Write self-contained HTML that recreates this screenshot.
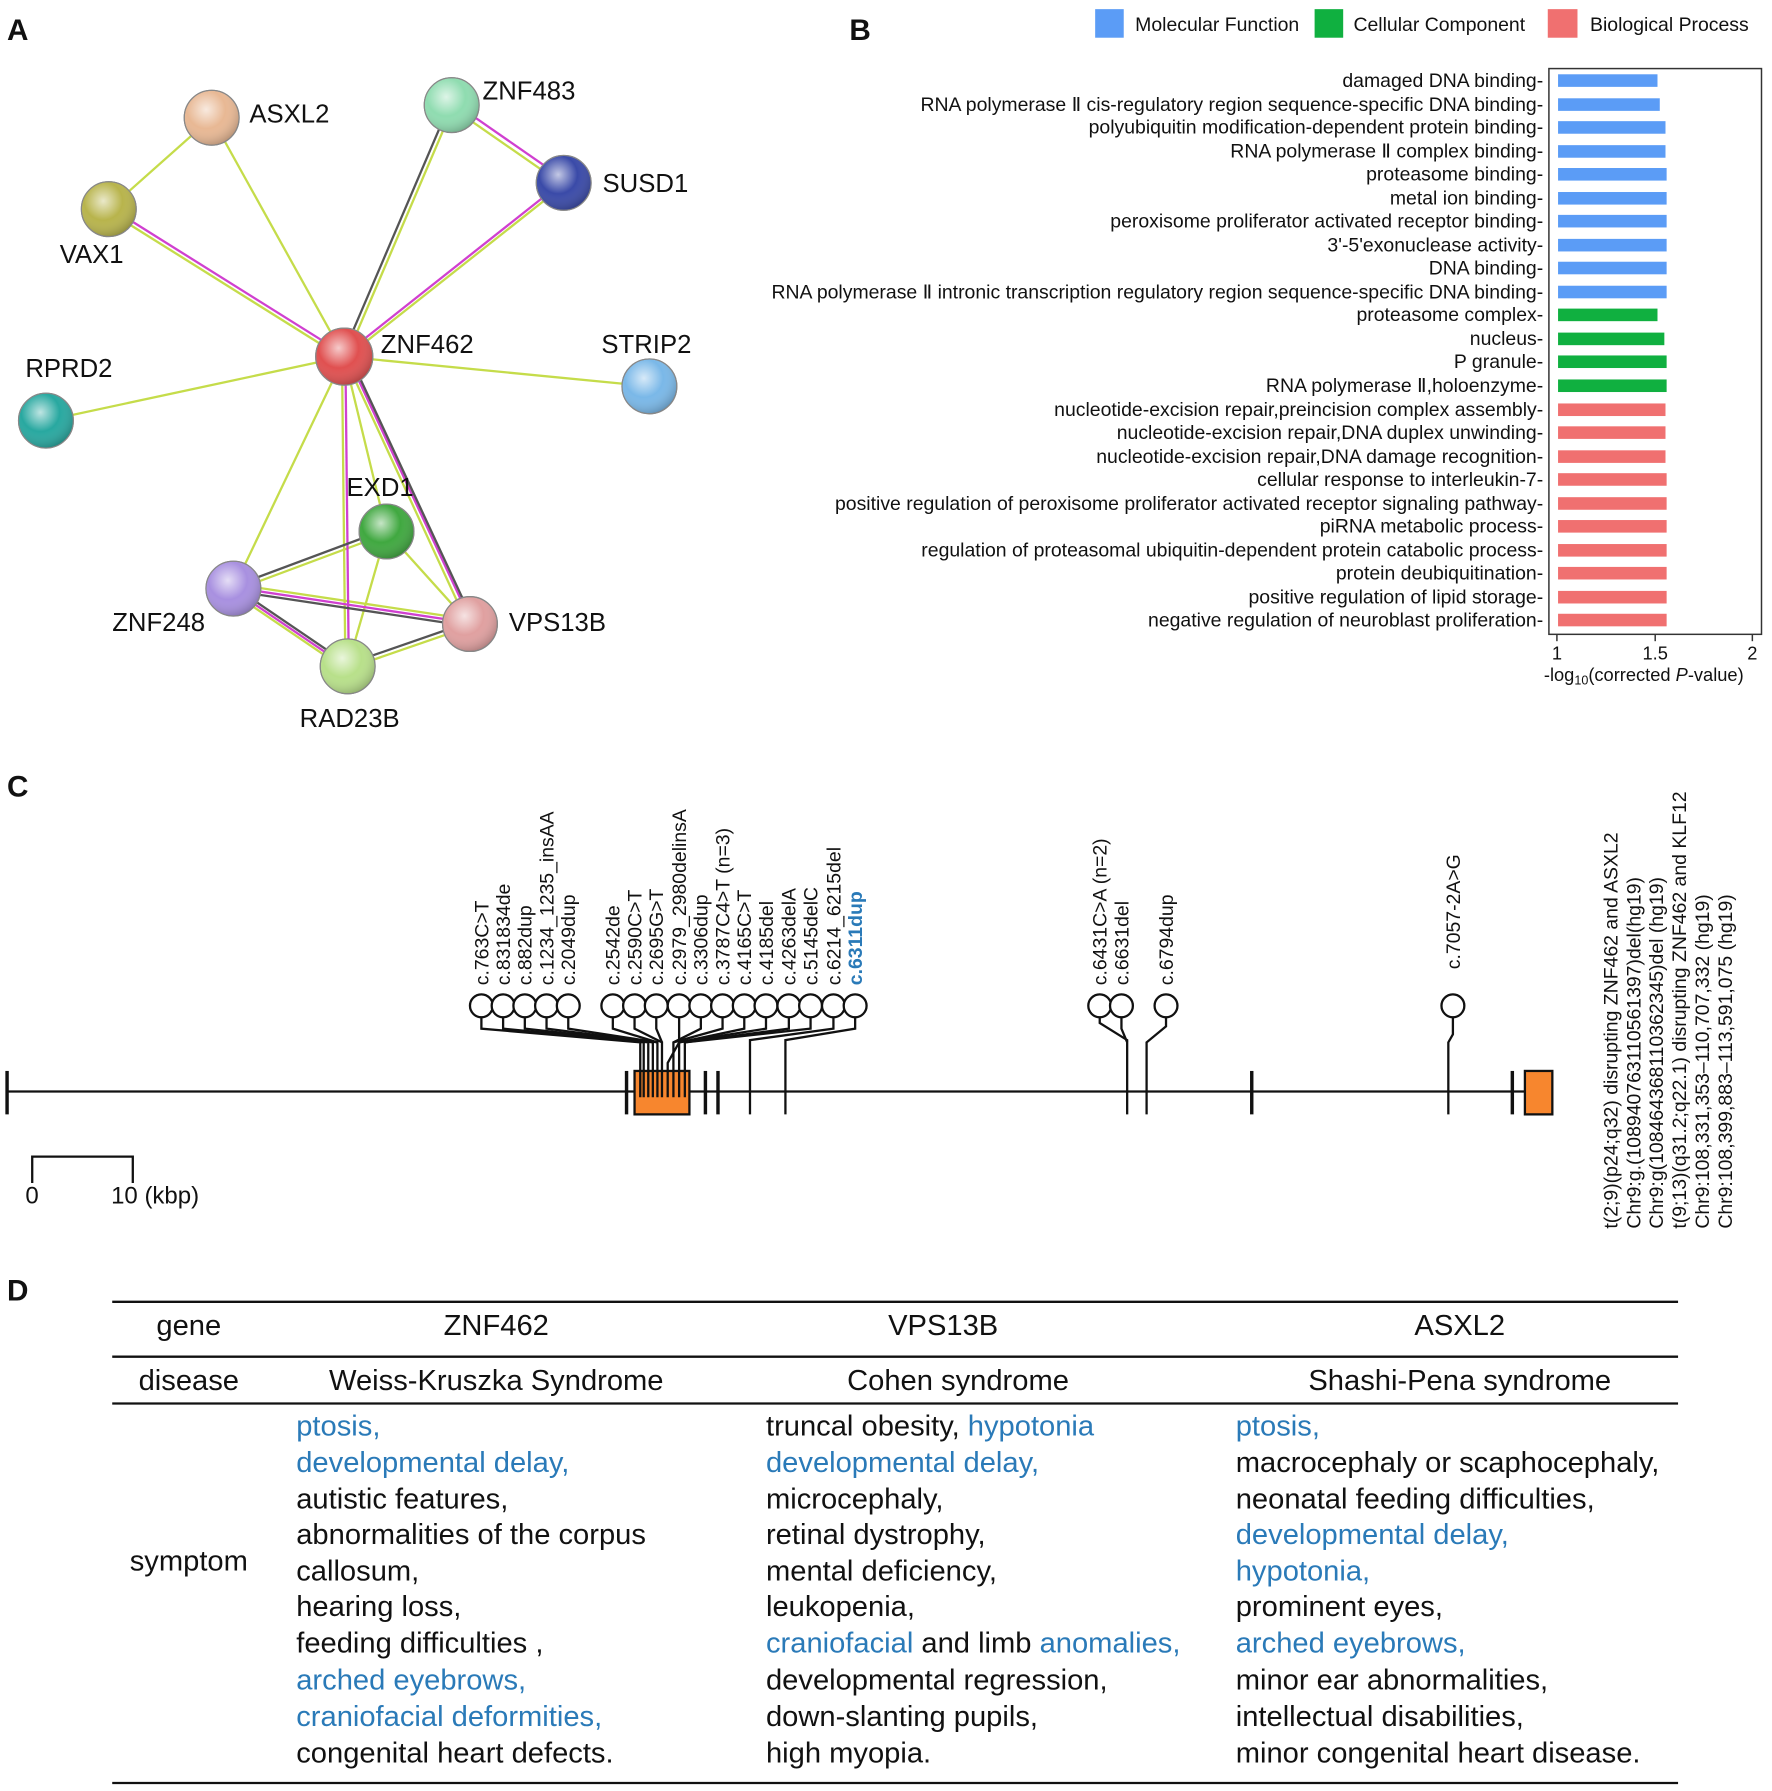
<!DOCTYPE html>
<html><head><meta charset="utf-8"><style>
html,body{margin:0;padding:0;background:#fff;}
svg{display:block;}
text{font-family:"Liberation Sans",Arial,sans-serif;fill:#111;}
.b{fill:#2a7ab8;}
</style></head><body>
<svg width="1772" height="1791" viewBox="0 0 1550 1567" xmlns="http://www.w3.org/2000/svg">
<defs>
<radialGradient id="g" cx="0.4" cy="0.35" r="0.7">
<stop offset="0" stop-color="#fff" stop-opacity="0.7"/><stop offset="0.5" stop-color="#fff" stop-opacity="0"/><stop offset="1" stop-color="#000" stop-opacity="0.25"/>
</radialGradient>
</defs>
<g font-weight="bold" font-size="26">
<text x="6" y="35">A</text><text x="743" y="35">B</text><text x="6" y="697">C</text><text x="6" y="1138">D</text>
</g>

<g stroke-width="2" fill="none">
<g stroke="#c5dc4a">
<line x1="185" y1="103" x2="95" y2="183"/>
<line x1="185" y1="103" x2="301" y2="312"/>
<line x1="95" y1="185" x2="301" y2="314"/>
<line x1="397" y1="92" x2="303" y2="312"/>
<line x1="395" y1="94" x2="493" y2="162"/>
<line x1="493" y1="162" x2="301" y2="314"/>
<line x1="301" y1="312" x2="568" y2="338"/>
<line x1="301" y1="312" x2="40" y2="368"/>
<line x1="301" y1="312" x2="204" y2="515"/>
<line x1="299" y1="312" x2="302" y2="583"/>
<line x1="301" y1="312" x2="338" y2="465"/>
<line x1="301" y1="312" x2="409" y2="546"/>
<line x1="204" y1="517" x2="338" y2="467"/>
<line x1="338" y1="465" x2="304" y2="583"/>
<line x1="338" y1="465" x2="411" y2="546"/>
<line x1="204" y1="511" x2="411" y2="542"/>
<line x1="204" y1="519" x2="304" y2="587"/>
<line x1="304" y1="585" x2="411" y2="548"/>
</g>
<g stroke="#d040d0">
<line x1="95" y1="181" x2="301" y2="310"/>
<line x1="397" y1="90" x2="495" y2="158"/>
<line x1="491" y1="160" x2="299" y2="312"/>
<line x1="302" y1="312" x2="305" y2="583"/>
<line x1="304" y1="312" x2="413" y2="546"/>
<line x1="204" y1="514" x2="411" y2="545"/>
<line x1="204" y1="516" x2="304" y2="584"/>
</g>
<g stroke="#555">
<line x1="393" y1="92" x2="299" y2="312"/>
<line x1="306" y1="312" x2="415" y2="546"/>
<line x1="204" y1="513" x2="338" y2="463"/>
<line x1="204" y1="517" x2="411" y2="548"/>
<line x1="204" y1="513" x2="304" y2="581"/>
<line x1="304" y1="581" x2="411" y2="544"/>
</g>
</g>
<g stroke="#888" stroke-width="1">
<circle cx="185" cy="103" r="24" fill="#e8b894"/><circle cx="185" cy="103" r="24" fill="url(#g)"/>
<circle cx="395" cy="92" r="24" fill="#8fdcb0"/><circle cx="395" cy="92" r="24" fill="url(#g)"/>
<circle cx="493" cy="160" r="24" fill="#3a4aa8"/><circle cx="493" cy="160" r="24" fill="url(#g)"/>
<circle cx="95" cy="183" r="24" fill="#b8b44c"/><circle cx="95" cy="183" r="24" fill="url(#g)"/>
<circle cx="301" cy="312" r="25" fill="#e05050"/><circle cx="301" cy="312" r="25" fill="url(#g)"/>
<circle cx="568" cy="338" r="24" fill="#7ab8e8"/><circle cx="568" cy="338" r="24" fill="url(#g)"/>
<circle cx="40" cy="368" r="24" fill="#28a8a0"/><circle cx="40" cy="368" r="24" fill="url(#g)"/>
<circle cx="338" cy="465" r="24" fill="#40a840"/><circle cx="338" cy="465" r="24" fill="url(#g)"/>
<circle cx="204" cy="515" r="24" fill="#a890e0"/><circle cx="204" cy="515" r="24" fill="url(#g)"/>
<circle cx="411" cy="546" r="24" fill="#e0a0a0"/><circle cx="411" cy="546" r="24" fill="url(#g)"/>
<circle cx="304" cy="583" r="24" fill="#b8e08a"/><circle cx="304" cy="583" r="24" fill="url(#g)"/>
</g>
<g font-size="22.5">
<text x="218" y="107">ASXL2</text><text x="422" y="87">ZNF483</text><text x="527" y="168">SUSD1</text>
<text x="80" y="230" text-anchor="middle">VAX1</text><text x="333" y="309">ZNF462</text><text x="526" y="309">STRIP2</text>
<text x="22" y="330">RPRD2</text><text x="303" y="434">EXD1</text><text x="98" y="552">ZNF248</text>
<text x="445" y="552">VPS13B</text><text x="262" y="636">RAD23B</text>
</g>

<rect x="958" y="8" width="25" height="25" fill="#5b9cf6"/><text x="993" y="27" font-size="17">Molecular Function</text>
<rect x="1150" y="8" width="25" height="25" fill="#10b040"/><text x="1184" y="27" font-size="17">Cellular Component</text>
<rect x="1354" y="8" width="26" height="25" fill="#f07070"/><text x="1391" y="27" font-size="17">Biological Process</text>
<rect x="1355" y="60" width="186" height="495" fill="none" stroke="#333" stroke-width="1.3"/>
<g fill="#5b9cf6">
<rect x="1363" y="65" width="87" height="11"/><rect x="1363" y="86" width="89" height="11"/>
<rect x="1363" y="106" width="94" height="11"/><rect x="1363" y="127" width="94" height="11"/>
<rect x="1363" y="147" width="95" height="11"/><rect x="1363" y="168" width="95" height="11"/>
<rect x="1363" y="188" width="95" height="11"/><rect x="1363" y="209" width="95" height="11"/>
<rect x="1363" y="229" width="95" height="11"/><rect x="1363" y="250" width="95" height="11"/>
</g>
<g fill="#10b040">
<rect x="1363" y="270" width="87" height="11"/><rect x="1363" y="291" width="93" height="11"/>
<rect x="1363" y="311" width="95" height="11"/><rect x="1363" y="332" width="95" height="11"/>
</g>
<g fill="#f07070">
<rect x="1363" y="353" width="94" height="11"/><rect x="1363" y="373" width="94" height="11"/>
<rect x="1363" y="394" width="94" height="11"/><rect x="1363" y="414" width="95" height="11"/>
<rect x="1363" y="435" width="95" height="11"/><rect x="1363" y="455" width="95" height="11"/>
<rect x="1363" y="476" width="95" height="11"/><rect x="1363" y="496" width="95" height="11"/>
<rect x="1363" y="517" width="95" height="11"/><rect x="1363" y="537" width="95" height="11"/>
</g>
<g transform="translate(1350,0) scale(1.0,1)" font-size="17" text-anchor="end">
<text x="0" y="76">damaged DNA binding-</text>
<text x="0" y="97">RNA polymerase Ⅱ cis-regulatory region sequence-specific DNA binding-</text>
<text x="0" y="117">polyubiquitin modification-dependent protein binding-</text>
<text x="0" y="138">RNA polymerase Ⅱ complex binding-</text>
<text x="0" y="158">proteasome binding-</text>
<text x="0" y="179">metal ion binding-</text>
<text x="0" y="199">peroxisome proliferator activated receptor binding-</text>
<text x="0" y="220">3'-5'exonuclease activity-</text>
<text x="0" y="240">DNA binding-</text>
<text x="0" y="261">RNA polymerase Ⅱ intronic transcription regulatory region sequence-specific DNA binding-</text>
<text x="0" y="281">proteasome complex-</text>
<text x="0" y="302">nucleus-</text>
<text x="0" y="322">P granule-</text>
<text x="0" y="343">RNA polymerase Ⅱ,holoenzyme-</text>
<text x="0" y="364">nucleotide-excision repair,preincision complex assembly-</text>
<text x="0" y="384">nucleotide-excision repair,DNA duplex unwinding-</text>
<text x="0" y="405">nucleotide-excision repair,DNA damage recognition-</text>
<text x="0" y="425">cellular response to interleukin-7-</text>
<text x="0" y="446">positive regulation of peroxisome proliferator activated receptor signaling pathway-</text>
<text x="0" y="466">piRNA metabolic process-</text>
<text x="0" y="487">regulation of proteasomal ubiquitin-dependent protein catabolic process-</text>
<text x="0" y="507">protein deubiquitination-</text>
<text x="0" y="528">positive regulation of lipid storage-</text>
<text x="0" y="548">negative regulation of neuroblast proliferation-</text>
</g>
<g stroke="#333" stroke-width="1.3"><line x1="1362" y1="555" x2="1362" y2="561"/><line x1="1448" y1="555" x2="1448" y2="561"/><line x1="1533" y1="555" x2="1533" y2="561"/></g>
<g font-size="16" text-anchor="middle"><text x="1362" y="577">1</text><text x="1448" y="577">1.5</text><text x="1533" y="577">2</text>
<text x="1438" y="596">-log<tspan font-size="11" dy="3">10</tspan><tspan dy="-3">(corrected </tspan><tspan font-style="italic">P</tspan>-value)</text></g>

<g stroke="#111" stroke-width="2" fill="none">
<line x1="6" y1="955" x2="1334" y2="955"/>
<line x1="6" y1="937" x2="6" y2="975" stroke-width="3"/>
</g>
<rect x="555" y="937" width="48" height="38" fill="#f7862e" stroke="#111" stroke-width="2"/>
<rect x="1334" y="937" width="24" height="38" fill="#f7862e" stroke="#111" stroke-width="2"/>
<g stroke="#111" stroke-width="3">
<line x1="548" y1="937" x2="548" y2="975"/><line x1="617" y1="937" x2="617" y2="975"/><line x1="628" y1="937" x2="628" y2="975"/>
<line x1="1095" y1="937" x2="1095" y2="975"/><line x1="1323" y1="937" x2="1323" y2="975"/>
</g>
<g stroke="#111" stroke-width="2" fill="none">
<polyline points="421,890 421,900 560,912 560,960"/>
<polyline points="440,890 440,900 563,912 563,960"/>
<polyline points="459,890 459,900 567,912 567,960"/>
<polyline points="478,890 478,900 571,912 571,960"/>
<polyline points="497,890 497,900 575,912 575,960"/>
<polyline points="536,890 536,900 575,912"/>
<polyline points="555,890 555,900 579,912 579,960"/>
<polyline points="574,890 574,900 579,912"/>
<polyline points="594,890 594,912 584,930 584,960"/>
<polyline points="613,890 613,900 589,912 589,960"/>
<polyline points="632,890 632,900 589,912"/>
<polyline points="651,890 651,900 594,912 594,960"/>
<polyline points="670,890 670,900 594,912"/>
<polyline points="690,890 690,900 599,912 599,960"/>
<polyline points="709,890 709,900 599,912"/>
<polyline points="729,890 729,900 656,910 656,975"/>
<polyline points="748,890 748,900 687,910 687,975"/>
<polyline points="962,890 962,895 986,910 986,975"/>
<polyline points="981,890 981,900 986,912"/>
<polyline points="1020,890 1020,898 1003,912 1003,975"/>
<polyline points="1271,890 1271,905 1267,912 1267,975"/>
</g>
<g stroke="#111" stroke-width="2" fill="#fff">
<circle cx="421" cy="880" r="10"/><circle cx="440" cy="880" r="10"/><circle cx="459" cy="880" r="10"/><circle cx="478" cy="880" r="10"/><circle cx="497" cy="880" r="10"/>
<circle cx="536" cy="880" r="10"/><circle cx="555" cy="880" r="10"/><circle cx="574" cy="880" r="10"/><circle cx="594" cy="880" r="10"/><circle cx="613" cy="880" r="10"/><circle cx="632" cy="880" r="10"/><circle cx="651" cy="880" r="10"/><circle cx="670" cy="880" r="10"/><circle cx="690" cy="880" r="10"/><circle cx="709" cy="880" r="10"/><circle cx="729" cy="880" r="10"/><circle cx="748" cy="880" r="10"/>
<circle cx="962" cy="880" r="10"/><circle cx="981" cy="880" r="10"/><circle cx="1020" cy="880" r="10"/><circle cx="1271" cy="880" r="10"/>
</g>
<g font-size="17">
<text transform="translate(427,862) rotate(-90)">c.763C&gt;T</text>
<text transform="translate(446,862) rotate(-90)">c.831834de</text>
<text transform="translate(465,862) rotate(-90)">c.882dup</text>
<text transform="translate(484,862) rotate(-90)">c.1234_1235_insAA</text>
<text transform="translate(503,862) rotate(-90)">c.2049dup</text>
<text transform="translate(542,862) rotate(-90)">c.2542de</text>
<text transform="translate(561,862) rotate(-90)">c.2590C&gt;T</text>
<text transform="translate(580,862) rotate(-90)">c.2695G&gt;T</text>
<text transform="translate(600,862) rotate(-90)">c.2979_2980delinsA</text>
<text transform="translate(619,862) rotate(-90)">c.3306dup</text>
<text transform="translate(638,862) rotate(-90)">c.3787C4&gt;T (n=3)</text>
<text transform="translate(657,862) rotate(-90)">c.4165C&gt;T</text>
<text transform="translate(676,862) rotate(-90)">c.4185del</text>
<text transform="translate(696,862) rotate(-90)">c.4263delA</text>
<text transform="translate(715,862) rotate(-90)">c.5145delC</text>
<text transform="translate(735,862) rotate(-90)">c.6214_6215del</text>
<text transform="translate(754,862) rotate(-90)" class="b" font-weight="bold">c.6311dup</text>
<text transform="translate(968,862) rotate(-90)">c.6431C&gt;A (n=2)</text>
<text transform="translate(987,862) rotate(-90)">c.6631del</text>
<text transform="translate(1026,862) rotate(-90)">c.6794dup</text>
<text transform="translate(1277,848) rotate(-90)">c.7057-2A&gt;G</text>
</g>
<g font-size="17">
<text transform="translate(1415,1075) rotate(-90)">t(2;9)(p24;q32) disrupting ZNF462 and ASXL2</text>
<text transform="translate(1435,1075) rotate(-90)">Chr9:g.(108940763110561397)del(hg19)</text>
<text transform="translate(1455,1075) rotate(-90)">Chr9:g(108464368110362345)del (hg19)</text>
<text transform="translate(1475,1075) rotate(-90)">t(9;13)(q31.2;q22.1) disrupting ZNF462 and KLF12</text>
<text transform="translate(1495,1075) rotate(-90)">Chr9:108,331,353–110,707,332 (hg19)</text>
<text transform="translate(1515,1075) rotate(-90)">Chr9:108,399,883–113,591,075 (hg19)</text>
</g>
<polyline points="28,1035 28,1012 116,1012 116,1035" fill="none" stroke="#111" stroke-width="2"/>
<g font-size="21"><text x="22" y="1053">0</text><text x="97" y="1053">10 (kbp)</text></g>

<g stroke="#111" stroke-width="2">
<line x1="98" y1="1139" x2="1468" y2="1139"/><line x1="98" y1="1187" x2="1468" y2="1187"/>
<line x1="98" y1="1228" x2="1468" y2="1228"/><line x1="98" y1="1560" x2="1468" y2="1560"/>
</g>
<g font-size="25.5" text-anchor="middle">
<text x="165" y="1168">gene</text><text x="434" y="1168">ZNF462</text><text x="825" y="1168">VPS13B</text><text x="1277" y="1168">ASXL2</text>
<text x="165" y="1216">disease</text><text x="434" y="1216">Weiss-Kruszka Syndrome</text><text x="838" y="1216">Cohen syndrome</text><text x="1277" y="1216">Shashi-Pena syndrome</text>
<text x="165" y="1374">symptom</text>
</g>
<g font-size="25.5">
<text x="259" y="1256" class="b">ptosis,</text>
<text x="259" y="1288" class="b">developmental delay,</text>
<text x="259" y="1320">autistic features,</text>
<text x="259" y="1351">abnormalities of the corpus</text>
<text x="259" y="1383">callosum,</text>
<text x="259" y="1414">hearing loss,</text>
<text x="259" y="1446">feeding difficulties ,</text>
<text x="259" y="1478" class="b">arched eyebrows,</text>
<text x="259" y="1510" class="b">craniofacial deformities,</text>
<text x="259" y="1542">congenital heart defects.</text>

<text x="670" y="1256">truncal obesity, <tspan class="b">hypotonia</tspan></text>
<text x="670" y="1288" class="b">developmental delay,</text>
<text x="670" y="1320">microcephaly,</text>
<text x="670" y="1351">retinal dystrophy,</text>
<text x="670" y="1383">mental deficiency,</text>
<text x="670" y="1414">leukopenia,</text>
<text x="670" y="1446"><tspan class="b">craniofacial</tspan> and limb <tspan class="b">anomalies,</tspan></text>
<text x="670" y="1478">developmental regression,</text>
<text x="670" y="1510">down-slanting pupils,</text>
<text x="670" y="1542">high myopia.</text>

<text x="1081" y="1256" class="b">ptosis,</text>
<text x="1081" y="1288">macrocephaly or scaphocephaly,</text>
<text x="1081" y="1320">neonatal feeding difficulties,</text>
<text x="1081" y="1351" class="b">developmental delay,</text>
<text x="1081" y="1383" class="b">hypotonia,</text>
<text x="1081" y="1414">prominent eyes,</text>
<text x="1081" y="1446" class="b">arched eyebrows,</text>
<text x="1081" y="1478">minor ear abnormalities,</text>
<text x="1081" y="1510">intellectual disabilities,</text>
<text x="1081" y="1542">minor congenital heart disease.</text>
</g>
</svg>
</body></html>
